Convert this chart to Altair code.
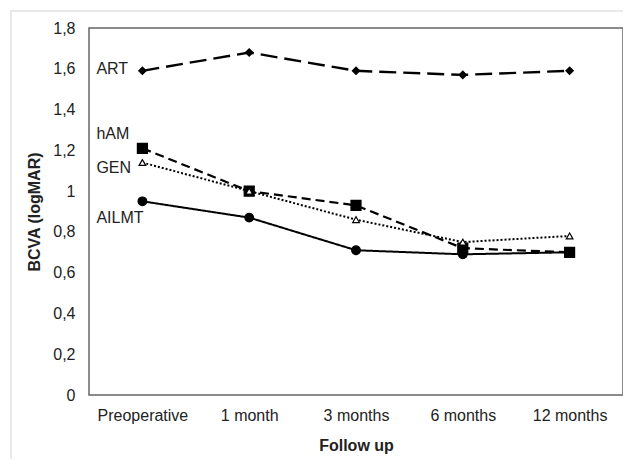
import altair as alt
import pandas as pd

categories = ["Preoperative", "1 month", "3 months", "6 months", "12 months"]
series_names = ["ART", "hAM", "GEN", "AILMT"]
art = [1.59, 1.68, 1.59, 1.57, 1.59]
ham = [1.21, 1.00, 0.93, 0.72, 0.70]
gen = [1.14, 1.00, 0.86, 0.75, 0.78]
ailmt = [0.95, 0.87, 0.71, 0.69, 0.70]
label_values = [1.60, 1.28, 1.115, 0.87]
y_ticks = [0, 0.2, 0.4, 0.6, 0.8, 1, 1.2, 1.4, 1.6, 1.8]

values = {"ART": art, "hAM": ham, "GEN": gen, "AILMT": ailmt}
styles = {
    "ART": dict(dash=[17, 7], width=2.4, shape="diamond", size=55, filled=True),
    "hAM": dict(dash=[9, 5], width=2.2, shape="square", size=100, filled=True),
    "GEN": dict(dash=[2, 2], width=2.0, shape="triangle-up", size=45, filled=False),
    "AILMT": dict(dash=[1, 0], width=2.0, shape="circle", size=75, filled=True),
}

FONT = "Liberation Sans"
W, H = 534, 367

x_enc = alt.X(
    "cat:N",
    sort=categories,
    scale=alt.Scale(type="point", padding=0.5),
    axis=alt.Axis(
        title="Follow up",
        labelAngle=0,
        labelFontSize=16,
        labelColor="#222",
        labelPadding=12,
        titleFontSize=16,
        titleFontWeight="bold",
        titleColor="#222",
        titlePadding=14,
        domain=False,
        ticks=False,
        grid=False,
        labelFont=FONT,
        titleFont=FONT,
    ),
)
y_scale = alt.Scale(domain=[0, 1.8], nice=False, zero=True)
y_enc = alt.Y(
    "val:Q",
    scale=y_scale,
    axis=alt.Axis(
        title="BCVA (logMAR)",
        values=y_ticks,
        labelExpr="replace(format(datum.value, '~g'), '.', ',')",
        labelFontSize=16,
        labelColor="#222",
        labelPadding=14,
        titleFontSize=16,
        titleFontWeight="bold",
        titleColor="#222",
        titlePadding=10,
        domain=False,
        ticks=False,
        grid=False,
        labelFont=FONT,
        titleFont=FONT,
    ),
)

layers = []
for name in series_names:
    st = styles[name]
    df = pd.DataFrame({"cat": categories, "val": values[name], "series": name})
    line = alt.Chart(df).mark_line(
        color="black", strokeWidth=st["width"], strokeDash=st["dash"]
    ).encode(x=x_enc, y=y_enc)
    pts = alt.Chart(df).mark_point(
        shape=st["shape"],
        size=st["size"],
        filled=st["filled"],
        color="black",
        fill="black" if st["filled"] else "white",
        stroke="black",
        strokeWidth=1.2,
        opacity=1,
    ).encode(x=x_enc, y=y_enc)
    layers += [line, pts]

lab_df = pd.DataFrame(
    {"cat": [categories[0]] * 4, "val": label_values, "label": series_names}
)
labels = alt.Chart(lab_df).mark_text(
    align="left", baseline="middle", dx=-46, fontSize=16, font=FONT, color="#222"
).encode(x=x_enc, y=y_enc, text="label:N")
layers.append(labels)

frame = alt.Chart(pd.DataFrame({"a": [0]})).mark_rect(
    fill=None, stroke="#e2e2e2", strokeWidth=1.5, clip=False
).encode(
    x=alt.value(-78), y=alt.value(-17), x2=alt.value(W + 20), y2=alt.value(H + 80)
)

chart = alt.layer(frame, *layers).properties(
    width=W,
    height=H,
    autosize=alt.AutoSizeParams(type="none"),
    padding={"left": 81, "top": 20, "right": 0, "bottom": 64},
    background="white",
).configure(
    font=FONT
).configure_view(
    stroke="#666", strokeWidth=1.5
)

chart.save("out.html", embed_options={"renderer": "svg", "actions": False})
